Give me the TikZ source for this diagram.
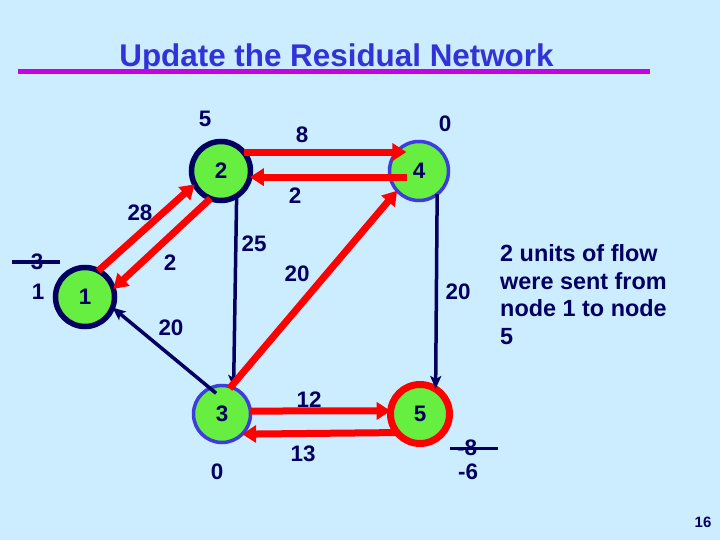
\documentclass[tikz,border=0pt]{standalone}
\usepackage{fontspec}
\setmainfont{Liberation Sans}
\usepackage{tikz}
\usetikzlibrary{arrows.meta}

\definecolor{bgblue}{RGB}{204,236,255}
\definecolor{navyc}{RGB}{0,0,96}
\definecolor{ringblue}{RGB}{60,60,225}
\definecolor{nodegreen}{RGB}{102,238,64}
\definecolor{titleblue}{RGB}{50,50,215}
\definecolor{barmagenta}{RGB}{200,0,230}

\tikzset{
  lbl/.style={inner sep=0pt,text=navyc,font=\fontsize{22.5}{26}\selectfont\bfseries},
  vtx/.style={circle,fill=nodegreen,inner sep=0pt,outer sep=0pt,minimum size=59bp,lbl},
  flowarc/.style={draw=red,line width=7bp,-{Triangle[length=14bp,width=17bp]}},
  resarc/.style={draw=navyc,line width=3.5bp,-{Stealth[length=13bp,width=11bp,inset=3bp]}}
}

\begin{document}
\begin{tikzpicture}[x=1bp,y=-1bp]

\fill[bgblue] (0,0) rectangle (720,540);
\useasboundingbox (0,0) rectangle (720,540);

% title
\node[inner sep=0pt,anchor=base,text=titleblue,font=\fontsize{31.5}{36}\selectfont\bfseries] (title) at (336.5,67) {Update the Residual Network};
\coordinate (barl) at (18,71.5);
\coordinate (barr) at (650,71.5);
\draw[barmagenta,line width=5bp] (barl)--(barr);

% vertices
\node[vtx,draw=navyc,line width=5.5bp] (n2) at (221,171) {2};
\node[vtx,draw=ringblue,line width=3.5bp] (n4) at (419,171) {4};
\node[vtx,draw=navyc,line width=5.5bp] (n1) at (85,297) {1};
\node[vtx,draw=ringblue,line width=3.5bp,minimum size=57bp] (n3) at (222,414) {3};
\node[vtx,draw=red,line width=7bp] (n5) at (420,414) {5};

% residual arcs
\draw[resarc] (n2.-58) -- (n3.66);
\draw[resarc] (n4.-52) -- (n5.58);
\draw[resarc,shorten <=-8bp] (n3.115) -- (n1.-21);

% arcs carrying the 2 units
\draw[flowarc,shorten >=-10bp] (n2.40) -- (n4.140);
\draw[flowarc,shorten <=-17bp] (n4.192) -- (n2.-12);
\draw[flowarc] (n1.63) -- (n2.207);
\draw[flowarc] (n2.249) -- (n1.16);
\draw[flowarc,shorten <=-2bp] (n3.72) -- (n4.222);
\draw[flowarc] (n3.6) -- (n5.174);
\draw[flowarc] (n5.219) -- (n3.-45);

% capacities
\node[lbl] (c24) at (302,135) {8};
\node[lbl] (c42) at (295,196) {2};
\node[lbl] (c12) at (140,213) {28};
\node[lbl] (c21) at (170,263) {2};
\node[lbl] (c23) at (254,244) {25};
\node[lbl] (c34) at (297,274) {20};
\node[lbl] (c45) at (458,292) {20};
\node[lbl] (c31) at (171,328) {20};
\node[lbl] (c35) at (309,400) {12};
\node[lbl] (c53) at (303,454) {13};

% supplies
\node[lbl] (b2) at (205,119) {5};
\node[lbl] (b4) at (445,124) {0};
\node[lbl] (b1old) at (37,262) {3};
\node[lbl] (b1) at (38,292) {1};
\node[lbl] (b3) at (217,472) {0};
\node[lbl] (b5old) at (467,448) {-8};
\node[lbl] (b5) at (468,472) {-6};
\draw[navyc,line width=3bp] ([xshift=-25bp]b1old.center) -- ([xshift=23bp]b1old.center);
\draw[navyc,line width=3bp] ([xshift=-17bp]b5old.center) -- ([xshift=31bp]b5old.center);

% note
\node[lbl,anchor=north west,align=left,font=\fontsize{23.5}{27.7}\selectfont\bfseries] (note) at (500,244.5) {2 units of flow\\were sent from\\node 1 to node\\5};

\node[lbl,font=\fontsize{15}{18}\selectfont\bfseries] (pgno) at (703,522) {16};

\end{tikzpicture}
\end{document}
